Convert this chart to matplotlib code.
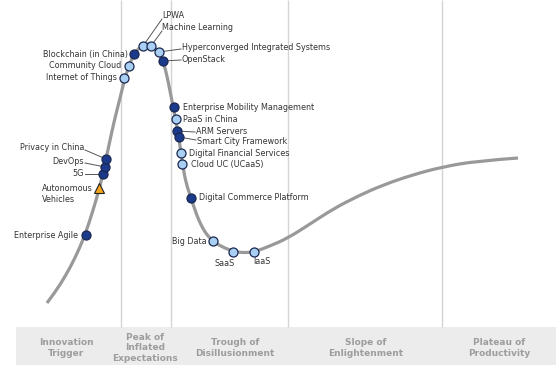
import matplotlib.pyplot as plt
from matplotlib.patches import Rectangle, PathPatch
from matplotlib.path import Path

# hype curve trace: time (x) vs expectations (y, measured downward)
curve_t = [47, 56, 66, 75, 83, 89, 94, 99, 103, 106, 109, 112, 115, 118, 121,
           124, 128, 133, 138, 143, 147, 151, 156, 160, 164, 167, 170, 173, 176,
           179, 181, 183, 186, 191, 197, 202, 207, 213, 222, 233, 240, 247, 254,
           270, 288, 310, 333, 358, 383, 412, 442, 477, 518]
curve_e = [303, 291, 275, 258, 240, 223, 207, 190, 173, 159, 145, 131, 118, 106, 94,
           82, 68, 56, 49, 45, 43.5, 45, 49, 55, 64, 76, 91, 106, 122,
           139, 153, 167, 183, 198, 216, 227, 235, 241, 247, 251, 252.5, 252.5, 252,
           246, 238, 224, 209, 196, 185, 175, 167, 161, 158]

# technologies on the curve
names = ['Enterprise Agile', 'Autonomous\nVehicles', '5G', 'DevOps', 'Privacy in China',
         'Internet of Things', 'Community Cloud', 'Blockchain (in China)', 'LPWA',
         'Machine Learning', 'Hyperconverged Integrated Systems', 'OpenStack',
         'Enterprise Mobility Management', 'PaaS in China', 'ARM Servers',
         'Smart City Framework', 'Digital Financial Services', 'Cloud UC (UCaaS)',
         'Digital Commerce Platform', 'Big Data', 'SaaS', 'IaaS']
tech_t = [86, 99, 103, 105, 106, 124, 129, 134, 143, 151, 159, 163,
          174, 176, 177, 179, 181, 182, 191, 213, 233, 254]
tech_e = [235, 188, 174, 167, 159, 78, 66, 54, 46, 46, 52, 61,
          107, 119, 131, 137, 153, 164, 198, 241, 252, 252]
kind = ['dark', 'tri', 'dark', 'dark', 'dark', 'light', 'light', 'dark', 'light',
        'light', 'light', 'dark', 'dark', 'light', 'dark', 'dark', 'light', 'light',
        'dark', 'light', 'light', 'light']

phases = ['Innovation\nTrigger', 'Peak of\nInflated\nExpectations', 'Trough of\nDisillusionment',
          'Slope of\nEnlightenment', 'Plateau of\nProductivity']
phase_edges = [120.5, 170.5, 288, 442]

# label placement: (x, y, ha, leader line?)
label_pos = {
    'Enterprise Agile': (78, 235, 'right', False),
    'Autonomous\nVehicles': (42, 194, 'left', False),
    '5G': (84, 173, 'right', True),
    'DevOps': (84, 161, 'right', True),
    'Privacy in China': (84, 148, 'right', True),
    'Internet of Things': (117, 78, 'right', False),
    'Community Cloud': (121, 66, 'right', False),
    'Blockchain (in China)': (128, 54, 'right', False),
    'LPWA': (162, 15, 'left', True),
    'Machine Learning': (162, 28, 'left', True),
    'Hyperconverged Integrated Systems': (182, 48, 'left', True),
    'OpenStack': (182, 59, 'left', True),
    'Enterprise Mobility Management': (183, 108, 'left', False),
    'PaaS in China': (183, 120, 'left', False),
    'ARM Servers': (196, 132, 'left', True),
    'Smart City Framework': (197, 141, 'left', True),
    'Digital Financial Services': (189, 154, 'left', False),
    'Cloud UC (UCaaS)': (191, 165, 'left', False),
    'Digital Commerce Platform': (199, 198, 'left', False),
    'Big Data': (207, 241, 'right', False),
    'SaaS': (225, 263, 'center', False),
    'IaaS': (262, 262, 'center', False),
}
leader_end = {
    '5G': (85, 174), 'DevOps': (85, 163), 'Privacy in China': (85, 150),
    'LPWA': (162, 19), 'Machine Learning': (162, 31),
    'Hyperconverged Integrated Systems': (181, 49), 'OpenStack': (181, 60),
    'ARM Servers': (195, 132), 'Smart City Framework': (196, 140),
}

fig = plt.figure(figsize=(5.56, 3.65), dpi=100)
ax = fig.add_axes([0, 0, 1, 1])
ax.set_xlim(0, 556)
ax.set_ylim(365, 0)
ax.axis('off')

# phase band and separators
ax.add_patch(Rectangle((16, 327), 540, 38, facecolor='#ececec', edgecolor='none', zorder=0))
ax.vlines(phase_edges, 0, 327, colors='#d4d4d4', linewidth=1, zorder=0)
phase_x = [66, 145, 235, 366, 499]
for px, ph in zip(phase_x, phases):
    ax.text(px, 348, ph, ha='center', va='center', fontsize=6.5, color='#9d9d9d',
            fontweight='bold', linespacing=1.25)

# smooth curve: quadratic bezier path using the traced points as control points
pts = list(zip(curve_t, curve_e))
verts = [pts[0]]
codes = [Path.MOVETO]
for i in range(1, len(pts) - 1):
    mid = ((pts[i][0] + pts[i + 1][0]) / 2, (pts[i][1] + pts[i + 1][1]) / 2)
    if i == len(pts) - 2:
        mid = pts[-1]
    verts += [pts[i], mid]
    codes += [Path.CURVE3, Path.CURVE3]
ax.add_patch(PathPatch(Path(verts, codes), facecolor='none', edgecolor='#999999',
                       linewidth=2.3, capstyle='butt', zorder=1))

styles = {'dark': '#1c3a8c', 'light': '#a9cff2'}
for n, t, e, k in zip(names, tech_t, tech_e, kind):
    lx, ly, ha, lead = label_pos[n]
    if lead:
        ex, ey = leader_end[n]
        ax.plot([ex, t], [ey, e], color='#555555', linewidth=0.7, zorder=2)
    if k == 'tri':
        ax.plot(t, e, marker='^', markersize=7.5, markerfacecolor='#f2a41c',
                markeredgecolor='#222222', markeredgewidth=0.8, zorder=3)
    else:
        ax.plot(t, e, marker='o', markersize=6.5, markerfacecolor=styles[k],
                markeredgecolor='#1a2850', markeredgewidth=0.9, zorder=3)
    ax.text(lx, ly, n, ha=ha, va='center', fontsize=5.8, color='#333333',
            linespacing=1.35, zorder=4)

fig.savefig('out.png', dpi=100)
